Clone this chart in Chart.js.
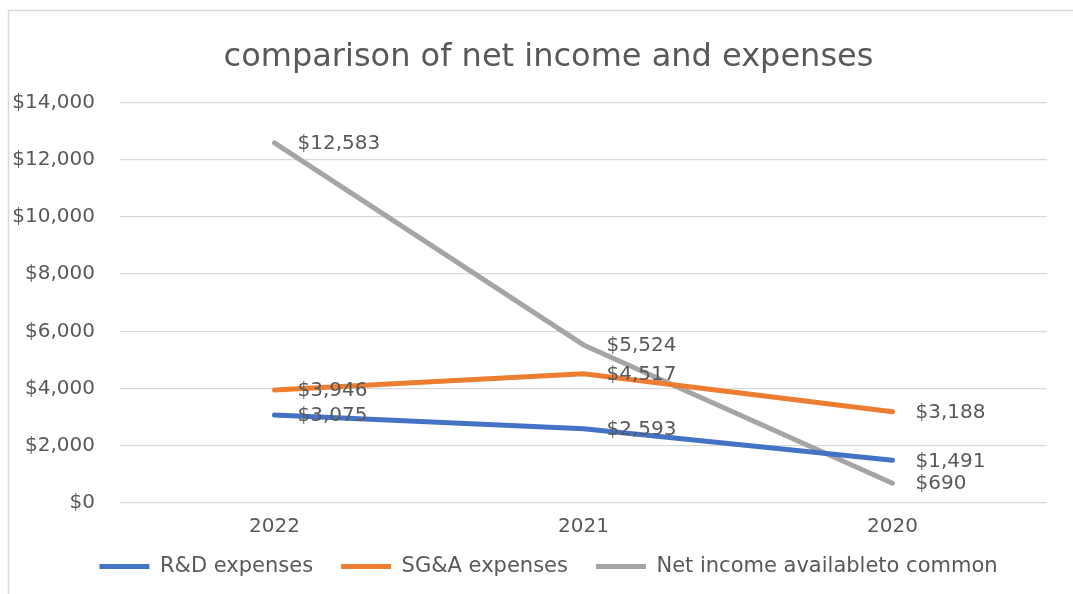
<!DOCTYPE html>
<html>
<head>
<meta charset="utf-8">
<script src="https://cdn.jsdelivr.net/npm/chart.js@4/dist/chart.umd.min.js"></script>
<style>
  html, body { margin: 0; padding: 0; background: #ffffff; }
  #wrap { position: relative; width: 1073px; height: 594px; }
</style>
</head>
<body>
<div id="wrap"><canvas id="c" width="1073" height="594"></canvas></div>
<script>
const categories = ['2022', '2021', '2020'];
const rdExpenses = [3075, 2593, 1491];
const sgaExpenses = [3946, 4517, 3188];
const netIncome = [12583, 5524, 690];
const seriesNames = ['R&D expenses', 'SG&A expenses', 'Net income availableto common'];
const chartTitle = 'comparison of net income and expenses';
const yTickMin = 0, yTickMax = 14000, yTickStep = 2000;

const FONT = "'DejaVu Sans', sans-serif";
const TEXT = '#595959';
const fmt = v => '$' + Number(v).toLocaleString('en-US');

const frame = {
  id: 'frame',
  beforeDraw(chart) {
    const ctx = chart.ctx;
    ctx.save();
    ctx.fillStyle = '#ffffff';
    ctx.fillRect(0, 0, chart.width, chart.height);
    ctx.strokeStyle = '#d9d9d9';
    ctx.lineWidth = 1.5;
    ctx.beginPath();
    ctx.moveTo(8.5, chart.height);
    ctx.lineTo(8.5, 10.5);
    ctx.lineTo(chart.width, 10.5);
    ctx.stroke();
    ctx.restore();
  }
};

const valueLabels = {
  id: 'valueLabels',
  afterDatasetsDraw(chart) {
    const ctx = chart.ctx;
    ctx.save();
    ctx.font = '20px ' + FONT;
    ctx.fillStyle = TEXT;
    ctx.textAlign = 'left';
    ctx.textBaseline = 'middle';
    chart.data.datasets.forEach((ds, di) => {
      const meta = chart.getDatasetMeta(di);
      meta.data.forEach((pt, i) => {
        ctx.fillText(fmt(ds.data[i]), pt.x + 23, pt.y + 1);
      });
    });
    ctx.restore();
  }
};

const noClip = s => { s._computeLabelArea = function () { return undefined; }; };

const mk = (label, data, color) => ({
  label, data,
  borderColor: color, backgroundColor: color,
  borderWidth: 5, pointRadius: 0, pointHoverRadius: 0,
  tension: 0, borderCapStyle: 'round', borderJoinStyle: 'round'
});

new Chart(document.getElementById('c'), {
  type: 'line',
  data: {
    labels: categories,
    datasets: [
      mk(seriesNames[0], rdExpenses, '#4472C4'),
      mk(seriesNames[1], sgaExpenses, '#ED7D31'),
      mk(seriesNames[2], netIncome, '#A5A5A5')
    ]
  },
  options: {
    responsive: false,
    animation: false,
    devicePixelRatio: 1,
    layout: { padding: { left: 50, right: 26, top: 0, bottom: 7 } },
    plugins: {
      title: {
        display: true, text: chartTitle, color: TEXT,
        font: { family: FONT, size: 32, weight: 'normal', lineHeight: 1.2 },
        padding: { top: 38, bottom: 26 }
      },
      legend: {
        position: 'bottom',
        labels: {
          color: TEXT,
          font: { family: FONT, size: 21 },
          usePointStyle: true, pointStyle: 'line', pointStyleWidth: 50,
          padding: 28
        }
      },
      tooltip: { enabled: false }
    },
    scales: {
      x: {
        offset: true,
        grid: { display: false, drawTicks: false },
        border: { display: false },
        ticks: { color: TEXT, font: { family: FONT, size: 20 }, padding: 12 },
        afterFit(s) { s.height = 25; noClip(s); }
      },
      y: {
        min: yTickMin, max: yTickMax,
        grid: { color: '#d9d9d9', lineWidth: 1.3, drawTicks: false },
        border: { display: false },
        ticks: { stepSize: yTickStep, color: TEXT, font: { family: FONT, size: 20 }, padding: 25, callback: v => fmt(v) },
        afterFit(s) { s.width = 70; noClip(s); }
      }
    }
  },
  plugins: [frame, valueLabels]
});
</script>
</body>
</html>
